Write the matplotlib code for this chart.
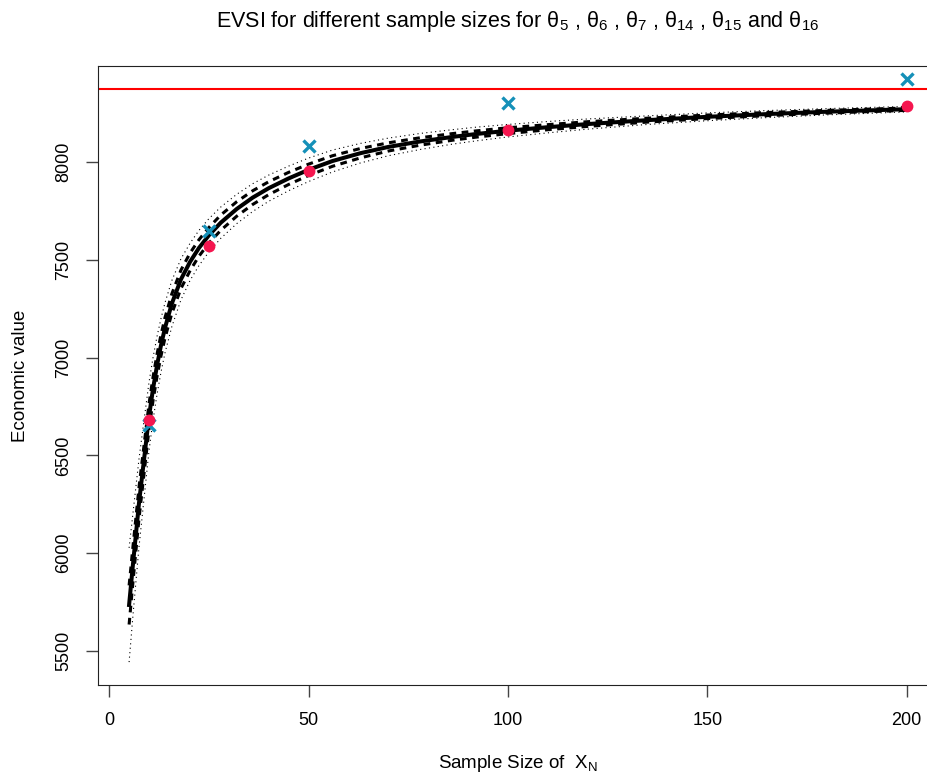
import numpy as np
from matplotlib import pyplot as plt

plt.rcParams['font.family'] = ['Liberation Sans', 'DejaVu Sans']
plt.rcParams['mathtext.fontset'] = 'custom'
plt.rcParams['mathtext.rm'] = 'Liberation Sans'
plt.rcParams['mathtext.it'] = 'Liberation Sans'

# sample sizes along the fitted curves
n = [5, 6, 7.5, 10, 11, 12, 13, 14, 15.7, 18, 20.3, 22.5, 25, 28, 32, 36, 40, 45, 50, 56,
     63, 70, 78, 86, 92, 100, 110, 120, 135, 150, 165, 180, 200]
evsi_fit = [5735, 5950, 6260, 6700, 6840, 6960, 7063, 7152, 7275, 7400, 7490, 7560, 7625, 7690,
            7760, 7818, 7866, 7916, 7960, 8005, 8045, 8077, 8105, 8128, 8143, 8160, 8178, 8194,
            8214, 8231, 8245, 8257, 8270]
# half widths of the dashed and dotted bands
half_dash = [100, 90, 80, 65, 60, 57, 54, 52, 50, 47, 45, 42, 40, 39, 37, 35, 33, 31, 29, 27,
             24, 21, 19, 17, 16, 15, 13, 12, 10, 9, 8, 7, 6]
half_dot = [292, 260, 225, 175, 160, 148, 137, 128, 118, 105, 95, 90, 85, 80, 75, 71, 67, 63, 60, 56,
            50, 45, 41, 37, 35, 32, 29, 26, 22, 20, 18, 16, 14]

# simulated estimates
n_pts = [10, 25, 50, 100, 200]
evsi_red = [6680, 7571, 7953, 8163, 8285]
evsi_blue = [6655, 7645, 8082, 8302, 8424]
evppi = 8375

fit = np.array(evsi_fit)
hd = np.array(half_dash)
ht = np.array(half_dot)

fig = plt.figure(figsize=(9.28, 7.76), dpi=100)
ax = fig.add_axes([0.1056, 0.1173, 0.905, 0.7977])

ax.plot(n, fit + ht, color='black', lw=0.8, ls=(0, (1, 3)))
ax.plot(n, fit - ht, color='black', lw=0.8, ls=(0, (1, 3)))
ax.plot(n, fit + hd, color='black', lw=2.2, ls=(0, (2.2, 1.8)))
ax.plot(n, fit - hd, color='black', lw=2.2, ls=(0, (2.2, 1.8)))
ax.plot(n, fit, color='black', lw=2.9)
ax.axhline(evppi, color='#FF0000', lw=1.5)
ax.plot(n_pts, evsi_blue, 'x', color='#1590B8', ms=8.5, mew=2.4)
ax.plot(n_pts, evsi_red, 'o', color='#F5164F', ms=7.5)

ax.set_xlim(-2.8, 207.8)
ax.set_ylim(5326, 8491)
ax.set_xticks([0, 50, 100, 150, 200])
ax.set_yticks([5500, 6000, 6500, 7000, 7500, 8000])
ax.tick_params(direction='out', length=8.6, width=1, colors='#444444', labelcolor='black', labelsize=13)
ax.tick_params(axis='x', pad=11)
ax.tick_params(axis='y', pad=10)
for lab in ax.get_yticklabels():
    lab.set_rotation(90)
    lab.set_va('center')
for s in ax.spines.values():
    s.set_color('#222222')

ax.set_title(r'EVSI for different sample sizes for θ$_5$ , θ$_6$ , θ$_7$ , θ$_{14}$ , θ$_{15}$ and θ$_{16}$',
             fontsize=15.5, pad=28)
ax.set_xlabel(r'Sample Size of  X$_\mathrm{N}$', fontsize=13.5, labelpad=17)
ax.set_ylabel('Economic value', fontsize=13.5, labelpad=19)

fig.savefig('out.png', dpi=100)
